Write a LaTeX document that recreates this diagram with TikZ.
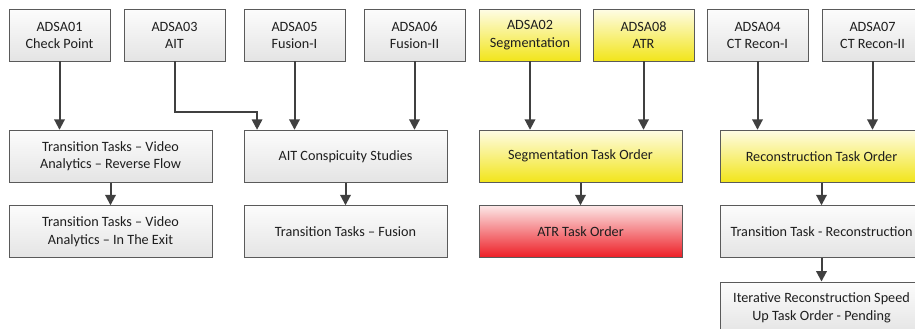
\documentclass[tikz,border=0pt]{standalone}
\usepackage{fontspec}
\setmainfont{Carlito}
\usetikzlibrary{arrows.meta,calc}
\definecolor{edge}{HTML}{5A5A5A}
\definecolor{linec}{HTML}{404040}
\definecolor{txt}{HTML}{1E1E1E}
\definecolor{graytop}{HTML}{FCFCFC}
\definecolor{graybot}{HTML}{E4E4E4}
\definecolor{yeltop}{HTML}{FEFCE4}
\definecolor{yelbot}{HTML}{F2E51A}
\definecolor{redtop}{HTML}{FCE6E6}
\definecolor{redbot}{HTML}{ED1C24}
\tikzset{
  box/.style={draw=edge, line width=0.9pt, inner sep=0pt, align=center,
    font=\fontsize{14.2}{17.5}\selectfont, text=txt},
  topbox/.style={box, minimum width=101pt, minimum height=51.5pt},
  widebox/.style={box, minimum width=203pt, minimum height=52pt},
  grayfill/.style={top color=graytop, bottom color=graybot},
  yelfill/.style={top color=yeltop, bottom color=yelbot},
  redfill/.style={top color=redtop, bottom color=redbot},
  arr/.style={draw=linec, line width=2pt, -{Triangle[width=10.5pt,length=10.5pt]}}
}
\begin{document}
\begin{tikzpicture}[x=1pt,y=-1pt]
\useasboundingbox (0,0) rectangle (915,329);
\clip (0,0) rectangle (915,329);
% top row
\node[topbox,grayfill] (a01) at (59.5,35.25) {ADSA01\\Check Point};
\node[topbox,grayfill] (a03) at (174.5,35.25) {ADSA03\\AIT};
\node[topbox,grayfill] (a05) at (294.5,35.25) {ADSA05\\Fusion-I};
\node[topbox,grayfill] (a06) at (414.5,35.25) {ADSA06\\Fusion-II};
\node[topbox,yelfill] (a02) at (530,35.25) {ADSA02\\Segmentation};
\node[topbox,yelfill] (a08) at (643.5,35.25) {ADSA08\\ATR};
\node[topbox,grayfill] (a04) at (757.5,35.25) {ADSA04\\CT Recon-I};
\node[topbox,grayfill] (a07) at (872.5,35.25) {ADSA07\\CT Recon-II};
% second row
\node[widebox,grayfill] (tr1) at (110.5,156.25) {Transition Tasks -- Video\\Analytics -- Reverse Flow};
\node[widebox,grayfill] (ait) at (345.5,156.25) {AIT Conspicuity Studies};
\node[widebox,yelfill] (seg) at (580.5,156.25) {Segmentation Task Order};
\node[widebox,yelfill] (rec) at (821.5,156.25) {Reconstruction Task Order};
% third row
\node[widebox,grayfill] (tr2) at (110.5,231.75) {Transition Tasks -- Video\\Analytics -- In The Exit};
\node[widebox,grayfill] (fus) at (345.5,231.75) {Transition Tasks -- Fusion};
\node[widebox,redfill] (atr) at (580.5,231.75) {ATR Task Order};
\node[widebox,grayfill] (trr) at (821.5,231.75) {Transition Task - Reconstruction};
% fourth row
\node[widebox,grayfill] (itr) at (821.5,308) {Iterative Reconstruction Speed\\Up Task Order - Pending};
% connectors
\coordinate (aitin) at ([xshift=13.5pt]ait.north west);
\draw[arr] (a01.south) -- (a01.south |- tr1.north);
\draw[arr] (a03.south) -- ++(0,51) -| (aitin);
\draw[arr] (a05.south) -- (a05.south |- ait.north);
\draw[arr] (a06.south) -- (a06.south |- ait.north);
\draw[arr] (a02.south) -- (a02.south |- seg.north);
\draw[arr] (a08.south) -- (a08.south |- seg.north);
\draw[arr] (a04.south) -- (a04.south |- rec.north);
\draw[arr] (a07.south) -- (a07.south |- rec.north);
\draw[arr] (tr1) -- (tr2);
\draw[arr] (ait) -- (fus);
\draw[arr] (seg) -- (atr);
\draw[arr] (rec) -- (trr);
\draw[arr] (trr) -- (itr);
\end{tikzpicture}
\end{document}
